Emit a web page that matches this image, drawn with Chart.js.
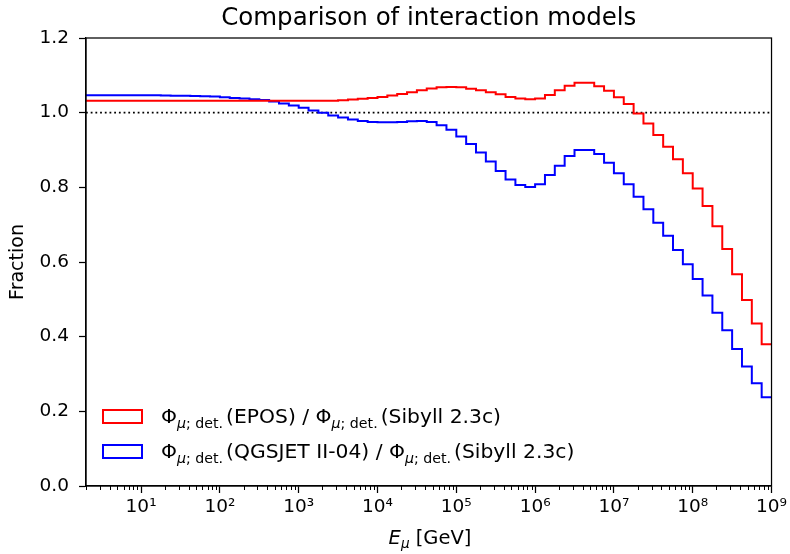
<!DOCTYPE html>
<html><head><meta charset="utf-8">
<script src="https://cdn.jsdelivr.net/npm/chart.js@4.4.1/dist/chart.umd.min.js"></script>
<style>
html,body{margin:0;padding:0;background:#fff;}
#wrap{position:relative;width:790px;height:554px;font-family:"DejaVu Sans",sans-serif;color:#000;}
#c{position:absolute;left:0;top:0;}
.row{position:absolute;left:102px;height:24px;display:flex;align-items:center;font-size:20.3px;white-space:nowrap;}
.box{width:37px;height:11px;border:2px solid;flex:none;}
.lt{margin-left:18px;}
sub{font-size:0.7em;vertical-align:-0.32em;line-height:0;margin-right:3px;}
#xt{position:absolute;left:0;width:860px;text-align:center;top:526px;font-size:19.5px;white-space:nowrap;}
#xt sub{margin-right:0;}
</style></head>
<body>
<div id="wrap">
<canvas id="c" width="790" height="554"></canvas>
<div class="row" style="top:404px"><div class="box" style="border-color:#ff0000"></div><div class="lt">Φ<sub><i>μ</i>; det.</sub>(EPOS) / Φ<sub><i>μ</i>; det.</sub>(Sibyll 2.3c)</div></div>
<div class="row" style="top:439px"><div class="box" style="border-color:#0000ff"></div><div class="lt">Φ<sub><i>μ</i>; det.</sub>(QGSJET II-04) / Φ<sub><i>μ</i>; det.</sub>(Sibyll 2.3c)</div></div>
<div id="xt"><i>E</i><sub><i>μ</i></sub> [GeV]</div>
</div>
<script>
// Bin edges (log10 of E in GeV), 8 bins per decade
const binEdgesLog10 = [0.25,0.375,0.5,0.625,0.75,0.875,1.0,1.125,1.25,1.375,1.5,1.625,1.75,1.875,
 2.0,2.125,2.25,2.375,2.5,2.625,2.75,2.875,3.0,3.125,3.25,3.375,3.5,3.625,3.75,3.875,
 4.0,4.125,4.25,4.375,4.5,4.625,4.75,4.875,5.0,5.125,5.25,5.375,5.5,5.625,5.75,5.875,
 6.0,6.125,6.25,6.375,6.5,6.625,6.75,6.875,7.0,7.125,7.25,7.375,7.5,7.625,7.75,7.875,
 8.0,8.125,8.25,8.375,8.5,8.625,8.75,8.875,9.0];

// EPOS / Sibyll 2.3c ratio per bin
const eposRatio = [1.032,1.032,1.032,1.032,1.032,1.032,1.032,1.032,1.032,1.032,1.032,1.032,1.032,
 1.032,1.032,1.032,1.032,1.032,1.032,1.032,1.032,1.032,1.032,1.032,1.032,1.032,
 1.033,1.035,1.037,1.039,1.042,1.046,1.050,1.055,1.060,1.065,1.068,1.069,1.068,1.064,
 1.060,1.055,1.049,1.042,1.038,1.036,1.038,1.047,1.060,1.072,1.080,1.080,1.071,1.059,
 1.041,1.023,0.998,0.971,0.940,0.909,0.875,0.8375,0.797,0.750,0.696,0.635,0.567,0.498,
 0.435,0.380];

// QGSJET II-04 / Sibyll 2.3c ratio per bin
const qgsjetRatio = [1.0465,1.0465,1.0465,1.0465,1.0465,1.0465,1.0465,1.0465,1.046,1.0455,
 1.045,1.0445,1.044,1.043,1.041,1.0395,1.038,1.036,1.034,1.030,1.0245,1.019,1.013,1.006,
 0.9995,0.9925,0.987,0.9815,0.978,0.975,0.974,0.974,0.975,0.977,0.978,0.975,0.966,0.954,
 0.936,0.916,0.893,0.869,0.844,0.821,0.806,0.801,0.808,0.833,0.858,0.884,0.900,0.900,
 0.889,0.866,0.8375,0.808,0.775,0.741,0.705,0.670,0.632,0.594,0.5545,0.510,0.464,0.417,
 0.367,0.320,0.275,0.238];

const referenceLevel = 1.0;
const xRange = [2, 1e9];
const yRange = [0, 1.2];
const xTickValues = [1e1,1e2,1e3,1e4,1e5,1e6,1e7,1e8,1e9];
const xTickLabels = ['10¹','10²','10³','10⁴','10⁵','10⁶','10⁷','10⁸','10⁹'];
const yTickValues = [0.0,0.2,0.4,0.6,0.8,1.0,1.2];
const yTickLabels = ['0.0','0.2','0.4','0.6','0.8','1.0','1.2'];

function stepPoints(vals){
  const pts = vals.map((v,i)=>({x: Math.pow(10, binEdgesLog10[i]), y: v}));
  pts.push({x: Math.pow(10, binEdgesLog10[binEdgesLog10.length-1]), y: vals[vals.length-1]});
  return pts;
}

const FONT = '"DejaVu Sans", sans-serif';

const framePlugin = {
  id: 'frame',
  afterDraw(chart){
    const {ctx, chartArea:a} = chart;
    const xs = chart.scales.x;
    ctx.save();
    ctx.strokeStyle = '#000';
    ctx.lineWidth = 1;
    ctx.beginPath();
    for (let n = 0; n <= 8; n++){
      for (let m = 2; m <= 9; m++){
        const v = m * Math.pow(10, n);
        if (v < xRange[0] || v > xRange[1]) continue;
        const px = Math.round(xs.getPixelForValue(v)) + 0.5;
        ctx.moveTo(px, a.bottom);
        ctx.lineTo(px, a.bottom + 4);
      }
    }
    ctx.stroke();
    ctx.lineWidth = 1.25;
    ctx.strokeRect(a.left, a.top, a.right - a.left, a.bottom - a.top);
    ctx.restore();
  }
};

new Chart(document.getElementById('c'), {
  type: 'line',
  data: {
    datasets: [
      {label: 'EPOS', data: stepPoints(eposRatio), borderColor: '#ff0000', borderWidth: 2,
       stepped: 'before', pointRadius: 0, fill: false},
      {label: 'QGSJET', data: stepPoints(qgsjetRatio), borderColor: '#0000ff', borderWidth: 2,
       stepped: 'before', pointRadius: 0, fill: false},
      {label: 'ref', data: [{x: xRange[0], y: referenceLevel}, {x: xRange[1], y: referenceLevel}],
       borderColor: '#000', borderWidth: 1.8, borderDash: [1.8, 2.9], pointRadius: 0, fill: false}
    ]
  },
  options: {
    responsive: false,
    animation: false,
    events: [],
    layout: {padding: {top: 0, right: 16, bottom: 0, left: 0}},
    plugins: {
      legend: {display: false},
      tooltip: {enabled: false},
      title: {display: true, fullSize: false, text: 'Comparison of interaction models', color: '#000',
        font: {family: FONT, size: 24.5, weight: 'normal'}, padding: {top: 4, bottom: 4.6}}
    },
    scales: {
      x: {
        type: 'logarithmic', min: xRange[0], max: xRange[1],
        afterFit(s){ s.height = 68; },
        afterBuildTicks(s){ s.ticks = xTickValues.map(v=>({value: v, major: true})); },
        ticks: {color: '#000', font: {family: FONT, size: 18.5}, padding: 3, maxRotation: 0, autoSkip: false,
          callback(v){ const i = xTickValues.indexOf(v); return i >= 0 ? xTickLabels[i] : ''; }},
        grid: {drawOnChartArea: false, color: '#000', tickLength: 7, tickWidth: 1.25},
        border: {display: true, color: '#000', width: 1.25}
      },
      y: {
        min: yRange[0], max: yRange[1],
        afterFit(s){ s.width = 86; },
        afterBuildTicks(s){ s.ticks = yTickValues.map(v=>({value: v})); },
        ticks: {color: '#000', font: {family: FONT, size: 18.5}, padding: 10,
          callback(v){ const i = yTickValues.findIndex(t=>Math.abs(t-v)<1e-9); return i>=0 ? yTickLabels[i] : ''; }},
        title: {display: true, text: 'Fraction', color: '#000', font: {family: FONT, size: 19}, padding: {top: 7, bottom: 0}},
        grid: {drawOnChartArea: false, color: '#000', tickLength: 7, tickWidth: 1.25},
        border: {display: true, color: '#000', width: 1.25}
      }
    }
  },
  plugins: [framePlugin]
});
</script>
</body></html>
